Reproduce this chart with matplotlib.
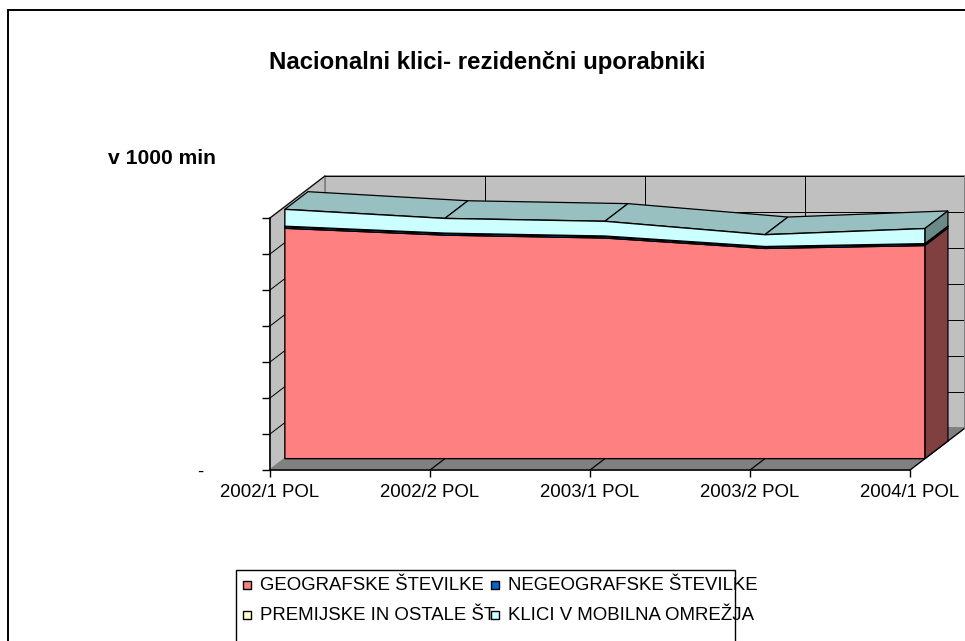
import numpy as np
import matplotlib
matplotlib.use("Agg")
import matplotlib.pyplot as plt
from matplotlib.patches import Polygon, Rectangle
from matplotlib.ticker import FuncFormatter

plt.rcParams['font.family'] = ['Liberation Sans', 'DejaVu Sans']

# data (v 1000 min)
categories = ["2002/1 POL", "2002/2 POL", "2003/1 POL", "2003/2 POL", "2004/1 POL"]
geografske = [320000, 310500, 306500, 292000, 296000]
negeografske = [2600, 2500, 2500, 2400, 2400]
premijske = [200, 200, 200, 200, 200]
mobilna = [23500, 20500, 20500, 16500, 21000]
series_names = ["GEOGRAFSKE ŠTEVILKE", "NEGEOGRAFSKE ŠTEVILKE",
                "PREMIJSKE IN OSTALE ŠT", "KLICI V MOBILNA OMREŽJA"]

face_colors = ['#FF8080', '#0066CC', '#FFFFCC', '#CCFFFF']
top_colors = ['#CC6666', '#00478F', '#CCCCA3', '#99C0C0']
side_colors = ['#804040', '#003366', '#808066', '#6B8A87']

W, H = 965, 641
fig = plt.figure(figsize=(W / 100, H / 100), dpi=100)
ax = fig.add_axes([270 / W, 1 - 470 / H, 640 / W, 252 / H])
ymax = 350000
ax.set_xlim(0, len(categories) - 1)
ax.set_ylim(0, ymax)
ax.patch.set_visible(False)

DEPTH = np.array([55, 42])  # oblique depth in pixels
SER_FRONT, SER_BACK = 0.27, 0.69


def shifted(x, y, f):
    pts = ax.transData.transform(np.column_stack([x, y]))
    return ax.transData.inverted().transform(pts + DEPTH * f)


def face(pts, fc, ec, lw, z):
    ax.add_patch(Polygon(pts, closed=True, fc=fc, ec=ec, lw=lw, zorder=z,
                         clip_on=False, joinstyle='miter'))


def line(pts, color, lw, z):
    ax.plot(pts[:, 0], pts[:, 1], color=color, lw=lw, zorder=z, clip_on=False)


xs = np.arange(len(categories))
xe = xs[-1]
yt = np.arange(0, ymax + 1, 50000)

# walls and floor
face(shifted([0, xe, xe, 0], [0, 0, ymax, ymax], 1), '#C0C0C0', '#808080', 1.2, 1)
face(np.vstack([shifted([0, 0], [0, ymax], 0), shifted([0, 0], [ymax, 0], 1)]),
     '#C0C0C0', '#808080', 1.2, 1)
face(np.vstack([shifted([0, xe], [0, 0], 0), shifted([xe, 0], [0, 0], 1)]),
     '#808080', '#808080', 1, 1)

# gridlines
for y in yt[1:]:
    line(shifted([0, xe], [y, y], 1), 'black', 0.7, 2)
    line(np.vstack([shifted([0], [y], 0), shifted([0], [y], 1)]), 'black', 0.7, 2)
for x in xs[1:-1]:
    line(shifted([x, x], [0, ymax], 1), 'black', 0.7, 2)
for x in xs[1:]:
    line(np.vstack([shifted([x], [0], 0), shifted([x], [0], 1)]), 'black', 0.9, 2)
line(shifted([xe, xe], [0, ymax], 1), '#808080', 1.2, 2)

# stacked 3D areas
layers = [geografske, negeografske, premijske, mobilna]
lo = np.zeros(len(xs))
for k, vals in enumerate(layers):
    hi = lo + np.array(vals, dtype=float)
    z = 10 + k
    for i in range(len(xs) - 1):
        quad = np.vstack([shifted(xs[i:i + 2], hi[i:i + 2], SER_FRONT),
                          shifted(xs[i:i + 2][::-1], hi[i:i + 2][::-1], SER_BACK)])
        face(quad, top_colors[k], 'black', 0.9, z)
    side = np.vstack([shifted([xe, xe], [lo[-1], hi[-1]], SER_FRONT),
                      shifted([xe, xe], [hi[-1], lo[-1]], SER_BACK)])
    face(side, side_colors[k], 'black', 0.9, z)
    front = np.vstack([shifted(xs, hi, SER_FRONT), shifted(xs[::-1], lo[::-1], SER_FRONT)])
    face(front, face_colors[k], 'black', 1.0, z)
    lo = hi

# axes
for s in ['top', 'right']:
    ax.spines[s].set_visible(False)
for s in ['left', 'bottom']:
    ax.spines[s].set_color('black')
    ax.spines[s].set_linewidth(1.1)
    ax.spines[s].set_zorder(5)
ax.set_xticks(xs)
ax.set_xticklabels(categories)
ax.set_yticks(yt)
ax.yaxis.set_major_formatter(FuncFormatter(lambda v, p: '-' if v == 0 else ''))
ax.tick_params(axis='x', direction='out', length=5, width=1, labelsize=13.4, pad=5)
ax.tick_params(axis='y', direction='out', length=5.8, width=1, labelsize=13.4, pad=42)

fig.text(487 / W, 1 - 62 / H, "Nacionalni klici- rezidenčni uporabniki",
         ha='center', va='center', fontsize=17.3, fontweight='bold')
fig.text(108 / W, 1 - 158 / H, "v 1000 min", ha='left', va='center',
         fontsize=15.2, fontweight='bold')

# outer chart border
fig.patches.append(Rectangle((8 / W, -0.1), 1.2, (H - 10) / H + 0.1, transform=fig.transFigure,
                             fill=False, ec='black', lw=1.4))

# legend box
fig.patches.append(Rectangle((236 / W, -0.1), (735 - 236) / W, (H - 570) / H + 0.1,
                             transform=fig.transFigure, fill=False, ec='black', lw=1))
leg_pos = [(243, 585), (491, 585), (243, 615), (491, 615)]
for k, (px, py) in enumerate(leg_pos):
    fig.text((px + 17) / W, 1 - py / H, series_names[k], ha='left', va='center',
             fontsize=13.4, zorder=3)
for k, (px, py) in enumerate(leg_pos):
    fig.patches.append(Rectangle((px / W, 1 - (py + 4) / H), 8 / W, 8 / H,
                                 transform=fig.transFigure, fc=face_colors[k],
                                 ec='black', lw=1, zorder=4))

fig.savefig('out.png', dpi=100)
